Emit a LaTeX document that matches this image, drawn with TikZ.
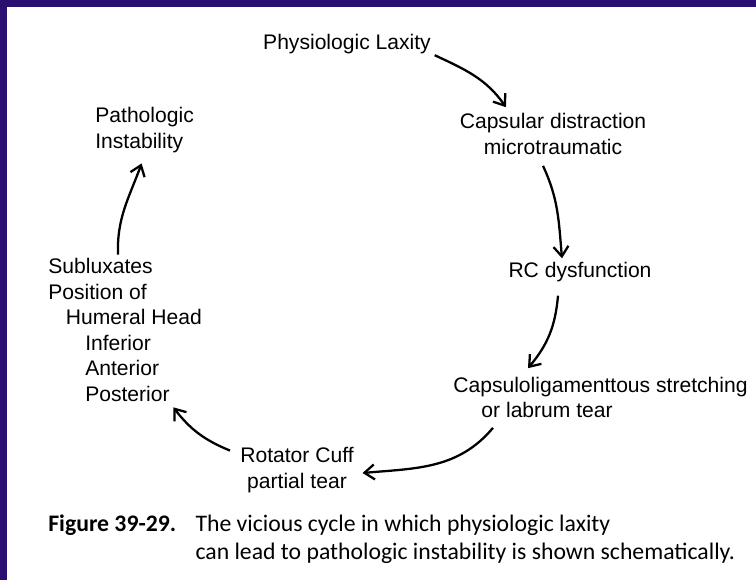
\documentclass[tikz,border=0pt]{standalone}
\usepackage{fontspec}
\setmainfont{Liberation Sans}
\newfontfamily\capfont{Carlito}
\usepackage{xcolor}
\usetikzlibrary{arrows,arrows.meta,positioning,calc}
\definecolor{frameblue}{HTML}{2B0F70}

\begin{document}
\begin{tikzpicture}[
  stage/.style={align=center, inner sep=2pt, font=\fontsize{12}{14.5}\selectfont},
  stageL/.style={stage, align=left, anchor=west},
  cyc/.style={-{Straight Barb[length=2mm,width=3mm]}, line width=1.3pt, black},
  capt/.style={anchor=west, inner sep=0pt, font=\capfont\fontsize{13.5}{15.5}\selectfont}
]
% Frame
\fill[frameblue] (0,0) rectangle (15.12,11.6);
\fill[white] (0.14,0) rectangle (15.12,11.45);
\useasboundingbox (0,0) rectangle (15.12,11.6);

% Stages of the cycle
\node[stage]  (lax)  at (6.94,10.72) {Physiologic Laxity};
\node[stage]  (caps) at (11.06,8.92) {Capsular distraction\\microtraumatic};
\node[stage]  (rc)   at (11.60,6.16) {RC dysfunction};
\node[stageL] (str)  at (8.99,3.65)  {Capsuloligamenttous stretching\\\hspace*{16pt}or labrum tear};
\node[stage]  (cuff) at (5.94,2.20)  {Rotator Cuff\\partial tear};
\node[stageL] (sub)  at (0.89,5.00)  {Subluxates\\Position of\\\hspace*{10pt}Humeral Head\\\hspace*{21pt}Inferior\\\hspace*{21pt}Anterior\\\hspace*{21pt}Posterior};
\node[stageL] (pat)  at (1.83,9.00)  {Pathologic\\Instability};

% Arrows round the cycle
\draw[cyc] ([yshift=0.05cm]lax.south east) to[out=-25,in=125] ([xshift=1.0cm,yshift=0.05cm]caps.north west);
\draw[cyc] ([xshift=-0.2cm,yshift=-0.15cm]caps.south) to[out=-65,in=95] ([xshift=-0.36cm]rc.north);
\draw[cyc] ([xshift=-0.44cm,yshift=-0.2cm]rc.south) to[out=-95,in=50] ([xshift=1.57cm,yshift=0.1cm]str.north west);
\draw[cyc] ([xshift=0.87cm,yshift=-0.12cm]str.south west) to[out=-130,in=5] ([xshift=0.1cm,yshift=-0.06cm]cuff.east);
\draw[cyc] ([xshift=-0.13cm,yshift=-0.14cm]cuff.north west) to[bend left=15] ([xshift=-0.65cm,yshift=-0.04cm]sub.south east);
\draw[cyc] ([xshift=1.47cm]sub.north west) to[out=92,in=-110] ([xshift=-0.06cm,yshift=-0.14cm]pat.south);

% Caption
\node[capt] (caption) at (0.96,0.80) {\begin{tabular}{@{}l@{\hspace{11pt}}l@{}}
  \textbf{Figure 39-29.} & The vicious cycle in which physiologic laxity\\
  & can lead to pathologic instability is shown schematically.
\end{tabular}};
\end{tikzpicture}
\end{document}
